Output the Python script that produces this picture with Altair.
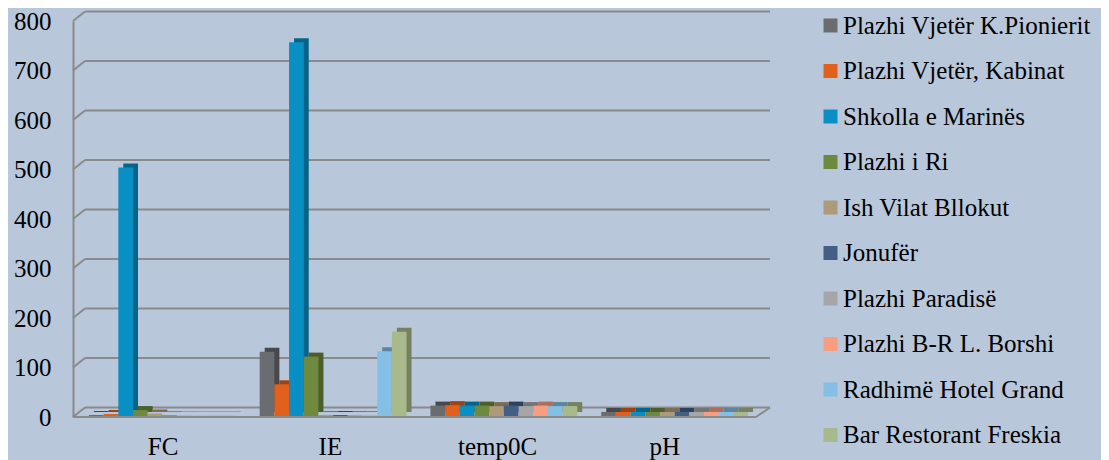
import altair as alt
import pandas as pd

categories = ["FC", "IE", "temp0C", "pH"]
series = [
    "Plazhi Vjetër K.Pionierit",
    "Plazhi Vjetër, Kabinat",
    "Shkolla e Marinës",
    "Plazhi i Ri",
    "Ish Vilat Bllokut",
    "Jonufër",
    "Plazhi Paradisë",
    "Plazhi B-R L. Borshi",
    "Radhimë Hotel Grand",
    "Bar Restorant Freskia",
]
fc_values = [2, 4, 502, 12, 5, 1, 1, 1, 1, 1]
ie_values = [130, 64, 755, 120, 2, 2, 2, 2, 131, 170]
temp_values = [21, 22, 21, 21, 20, 21, 20, 21, 20, 20]
ph_values = [8.2, 8.1, 8.2, 8.1, 8.0, 8.2, 8.1, 8.2, 8.1, 8.1]
y_ticks = [0, 100, 200, 300, 400, 500, 600, 700, 800]

colors = ["#6b6c70", "#e0601c", "#0a8fc4", "#6e8a3e", "#ad9a78",
          "#445f86", "#a6a6a8", "#f99d80", "#84bfe5", "#a8b98c"]
side_colors = ["#47484b", "#9e4212", "#076489", "#4c5f2a", "#7b6c54",
               "#2f425d", "#747476", "#ae6e5a", "#5c86a0", "#75815f"]

FONT = "Liberation Serif, Times New Roman, serif"
FS = 25
GRID = "#8a8a8a"
W, H = 683, 396
S = 4            # shift of the bar origin relative to the front-left axis corner
DX, DY = 12, 9.5

rows = []
for cat, vals in zip(categories, [fc_values, ie_values, temp_values, ph_values]):
    for s, v in zip(series, vals):
        rows.append({"cat": cat, "series": s, "value": v})
df = pd.DataFrame(rows)
grid_df = pd.DataFrame({"v": y_ticks})
one_df = pd.DataFrame({"v": [0]})

yscale = alt.Scale(domain=[0, 800], nice=False)
yaxis = alt.Axis(title=None, ticks=False, grid=False, values=y_ticks, offset=S,
                 labelFont=FONT, labelFontSize=FS, labelColor="black",
                 labelPadding=22, domainColor=GRID, domainWidth=2)
xoff = alt.XOffset("series:N", sort=series, scale=alt.Scale(paddingInner=0, paddingOuter=0))

diag = alt.Chart(grid_df).mark_rule(color=GRID, strokeWidth=2, y2Offset=-DY).encode(
    x=alt.value(-S), x2=alt.value(DX - S), y=alt.Y("v:Q", scale=yscale, axis=yaxis), y2="v:Q"
)
back = alt.Chart(grid_df).mark_rule(color=GRID, strokeWidth=2, yOffset=-DY).encode(
    x=alt.value(DX - S), x2=alt.value(W - S + DX + 2), y=alt.Y("v:Q", scale=yscale, axis=yaxis)
)
floor_front = alt.Chart(one_df).mark_rule(color=GRID, strokeWidth=2).encode(
    x=alt.value(-S), x2=alt.value(W - S), y=alt.value(H)
)
floor_right = alt.Chart(one_df).mark_rule(color=GRID, strokeWidth=2).encode(
    x=alt.value(W - S), x2=alt.value(W - S + DX + 2), y=alt.value(H), y2=alt.value(H - DY)
)

labels_layer = alt.Chart(df).mark_point(opacity=0).encode(
    x=alt.X("cat:N", sort=categories,
            scale=alt.Scale(range=[2, 671], paddingInner=0, paddingOuter=0),
            axis=alt.Axis(title=None, ticks=False, domain=False, labelAngle=0,
                          labelFont=FONT, labelFontSize=FS, labelColor="black",
                          labelPadding=17)),
    y=alt.Y("value:Q", scale=yscale, axis=yaxis),
)

shadow = alt.Chart(df).mark_bar(yOffset=-5).encode(
    x=alt.X("cat:N", sort=categories,
            scale=alt.Scale(range=[5, W + 5], paddingInner=0.14, paddingOuter=0.07),
            axis=None),
    xOffset=xoff,
    y=alt.Y("value:Q", scale=yscale, axis=yaxis),
    color=alt.Color("series:N", sort=series,
                    scale=alt.Scale(domain=series, range=side_colors), legend=None),
)
bars = alt.Chart(df).mark_bar(yOffset=-1).encode(
    x=alt.X("cat:N", sort=categories,
            scale=alt.Scale(range=[0, W], paddingInner=0.14, paddingOuter=0.07),
            axis=None),
    xOffset=xoff,
    y=alt.Y("value:Q", scale=yscale, axis=yaxis),
    color=alt.Color(
        "series:N", sort=series, scale=alt.Scale(domain=series, range=colors),
        legend=alt.Legend(title=None, orient="none", legendX=741, legendY=-8,
                          symbolType="square", symbolSize=196, symbolStrokeWidth=0,
                          labelFont=FONT, labelFontSize=FS, labelColor="black",
                          labelLimit=400, rowPadding=19.5, labelOffset=0, padding=0),
    ),
)

chart = (
    alt.layer(diag, back, floor_front, floor_right, labels_layer, shadow, bars)
    .resolve_scale(color="independent", x="independent")
    .properties(
        width=W, height=H,
        autosize=alt.AutoSizeParams(type="none"),
        padding={"left": 65 + S, "top": 13, "right": 345 - S, "bottom": 50},
        background="#b8c7da",
    )
    .configure_view(stroke=None)
)

chart.save("out.html", embed_options={"renderer": "svg", "actions": False})
